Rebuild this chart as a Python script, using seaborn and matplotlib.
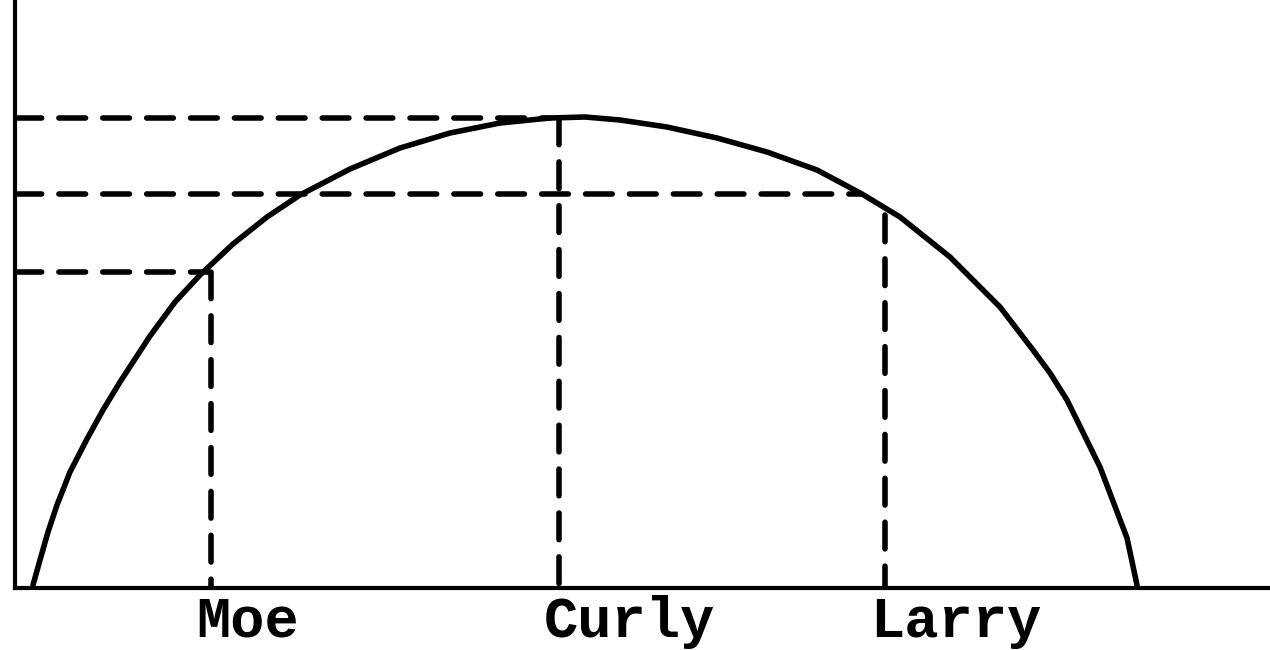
import matplotlib
matplotlib.use("Agg")
from matplotlib import pyplot as plt
from matplotlib import transforms
import seaborn as sns
import pandas as pd

# curve (x to the right of the y axis, y above the x axis)
curve_x = [18, 25, 33, 42, 55, 72, 88, 105, 135, 160, 185, 218, 252, 285, 335,
           385, 435, 485, 535, 570, 605, 652, 702, 752, 802, 847, 885, 935,
           985, 1018, 1035, 1052, 1085, 1112, 1122]
curve_y = [3, 28, 56, 83, 116, 149, 178, 206, 252, 286, 313, 344, 371, 393,
           419, 440, 455, 465, 470, 471, 468, 461, 450, 436, 418, 394, 371,
           331, 281, 238, 215, 188, 121, 50, 3]

names = ["Moe", "Curly", "Larry"]
name_x = [196, 544, 870]          # where each one sits on the x axis
name_y = [316, 470, 394]          # height of the curve there
hline_end = [193, 535, 845]       # horizontal guides stop at the curve
vline_top = [316, 470, 373]       # vertical guides start here

sns.set_style("white")
plt.rcParams["font.family"] = ["Liberation Mono", "DejaVu Sans Mono"]

fig = plt.figure(figsize=(12.7, 6.5), dpi=100)
ax = fig.add_axes([15 / 1270, 62 / 650, 1255 / 1270, 588 / 650])

df = pd.DataFrame({"x": curve_x, "y": curve_y})
sns.lineplot(data=df, x="x", y="y", ax=ax, color="black", linewidth=4.0,
             sort=False, estimator=None, solid_capstyle="round",
             solid_joinstyle="round")

dash_kw = dict(color="black", linewidth=4.0, dashes=(4.8, 3.1),
               dash_capstyle="round")
for h, xe in zip(name_y, hline_end):
    ax.plot([0, xe], [h, h], **dash_kw)
for xv, top in zip(name_x, vline_top):
    ax.plot([xv, xv], [top, 0], **dash_kw)

ax.set_xlim(0, 1255)
ax.set_ylim(0, 588)
ax.set_xlabel("")
ax.set_ylabel("")
ax.set_yticks([])
ax.set_xticks(name_x, names)
ax.tick_params(axis="x", length=0, pad=5, labelsize=41, labelcolor="black")
shift = transforms.ScaledTranslation(-15 / 100, 0, fig.dpi_scale_trans)
for lab in ax.get_xticklabels():
    lab.set_horizontalalignment("left")
    lab.set_fontweight("bold")
    lab.set_transform(lab.get_transform() + shift)

sns.despine(ax=ax)
for side in ["left", "bottom"]:
    ax.spines[side].set_linewidth(3.0)
    ax.spines[side].set_color("black")

fig.savefig("out.png", dpi=100)
